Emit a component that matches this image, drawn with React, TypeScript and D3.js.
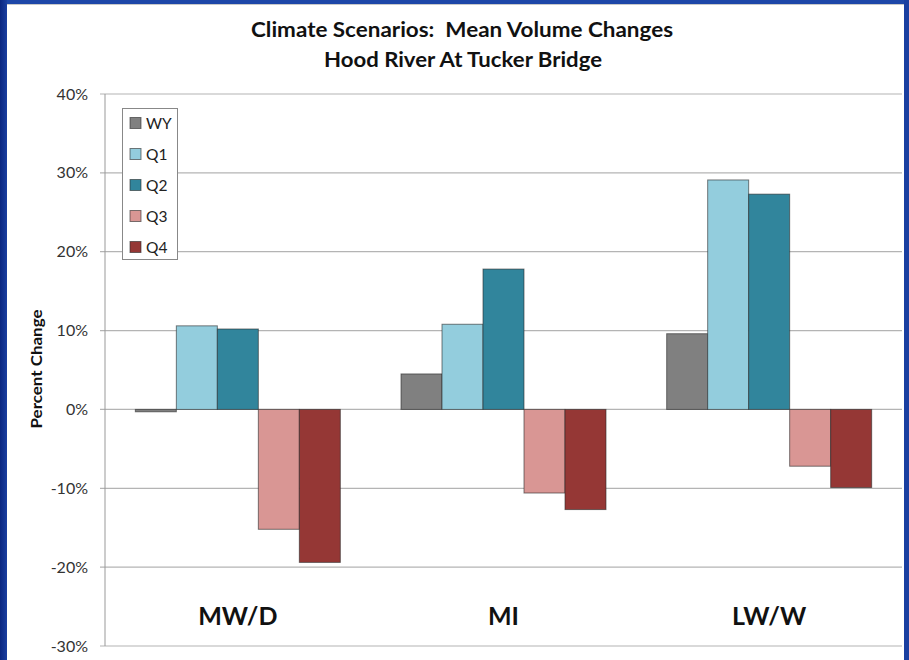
import React from "react";
import * as d3 from "d3";

const categories = ["MW/D", "MI", "LW/W"];
const seriesNames = ["WY", "Q1", "Q2", "Q3", "Q4"];
const wyValues = [-0.3, 4.5, 9.6];
const q1Values = [10.6, 10.8, 29.1];
const q2Values = [10.2, 17.8, 27.3];
const q3Values = [-15.2, -10.6, -7.2];
const q4Values = [-19.4, -12.7, -9.9];
const seriesColors = ["#808080", "#93cddd", "#31859c", "#d99694", "#953735"];
const yTicks = [-30, -20, -10, 0, 10, 20, 30, 40];
const titleLines = ["Climate Scenarios:  Mean Volume Changes", "Hood River At Tucker Bridge"];

const W = 909;
const H = 660;
const FONT = "Lato, 'Open Sans', sans-serif";

export default function App() {
  const seriesValues = [wyValues, q1Values, q2Values, q3Values, q4Values];
  const left = 105;
  const right = 902;
  const y = d3.scaleLinear().domain([-30, 40]).range([646, 94]);
  const x0 = d3.scaleBand<string>().domain(categories).range([left, right]).padding(0);
  const x1 = d3
    .scaleBand<string>()
    .domain(seriesNames)
    .range([0, x0.bandwidth()])
    .paddingInner(0)
    .paddingOuter(0.74);

  return (
    <svg
      width={W}
      height={H}
      style={{ position: "absolute", left: 0, top: 0, background: "#fff" }}
      fontFamily={FONT}
    >
      <defs>
        <linearGradient id="lb" x1="0" x2="1" y1="0" y2="0">
          <stop offset="0" stopColor="#0a2680" />
          <stop offset="1" stopColor="#1a3fa0" />
        </linearGradient>
      </defs>
      <rect x={0} y={0} width={W} height={H} fill="#fff" />
      {/* frame */}
      <rect x={0} y={0} width={W} height={4} fill="#1d47a8" />
      <rect x={0} y={0} width={7} height={H} fill="url(#lb)" />
      <rect x={904} y={0} width={5} height={H} fill="#1a3fa0" />
      <line x1={7} x2={904} y1={4.5} y2={4.5} stroke="#c8c8c8" strokeWidth={1} />

      {/* title */}
      <text x={462} y={37} textAnchor="middle" fontSize={20} fontWeight="bold" fill="#111"
        textLength={422} lengthAdjust="spacingAndGlyphs" style={{ whiteSpace: "pre" }}>
        {titleLines[0]}
      </text>
      <text x={463} y={67} textAnchor="middle" fontSize={20} fontWeight="bold" fill="#111"
        textLength={278} lengthAdjust="spacingAndGlyphs">
        {titleLines[1]}
      </text>

      {/* gridlines and ticks */}
      {yTicks.map((t) => (
        <g key={t}>
          <line x1={100} x2={right} y1={y(t)} y2={y(t)} stroke="#b4b4b4" strokeWidth={1.2} />
          <text x={88} y={y(t) + 5.5} textAnchor="end" fontSize={16} fill="#333">
            {`${t}%`}
          </text>
        </g>
      ))}
      <line x1={left} x2={left} y1={94} y2={646} stroke="#999" strokeWidth={1} />

      {/* y-axis title */}
      <text
        transform={`translate(42, 369) rotate(-90)`}
        textAnchor="middle"
        fontSize={15}
        fontWeight="bold"
        fill="#111"
        textLength={119}
        lengthAdjust="spacingAndGlyphs"
      >
        Percent Change
      </text>

      {/* bars */}
      {categories.map((c, ci) => (
        <g key={c} transform={`translate(${x0(c)},0)`}>
          {seriesNames.map((s, si) => {
            const v = seriesValues[si][ci];
            const y0 = y(0);
            const yv = y(v);
            return (
              <rect
                key={s}
                x={x1(s)}
                y={Math.min(y0, yv)}
                width={x1.bandwidth()}
                height={Math.max(Math.abs(yv - y0), 1.5)}
                fill={seriesColors[si]}
                stroke="rgba(40,40,40,0.6)"
                strokeWidth={1}
              />
            );
          })}
        </g>
      ))}

      {/* category labels */}
      {categories.map((c) => (
        <text
          key={c}
          x={(x0(c) as number) + x0.bandwidth() / 2}
          y={625}
          textAnchor="middle"
          fontSize={25}
          fontWeight="bold"
          fill="#111"
        >
          {c}
        </text>
      ))}

      {/* legend */}
      <rect x={122.5} y={108.5} width={55} height={151} fill="#fff" stroke="#888" strokeWidth={1} />
      {seriesNames.map((s, i) => (
        <g key={s} transform={`translate(130, ${123 + i * 31})`}>
          <rect x={0} y={-5.5} width={11} height={11} fill={seriesColors[i]} stroke="rgba(40,40,40,0.6)" strokeWidth={1} />
          <text x={16} y={5.5} fontSize={15.5} fill="#222">
            {s}
          </text>
        </g>
      ))}
    </svg>
  );
}
